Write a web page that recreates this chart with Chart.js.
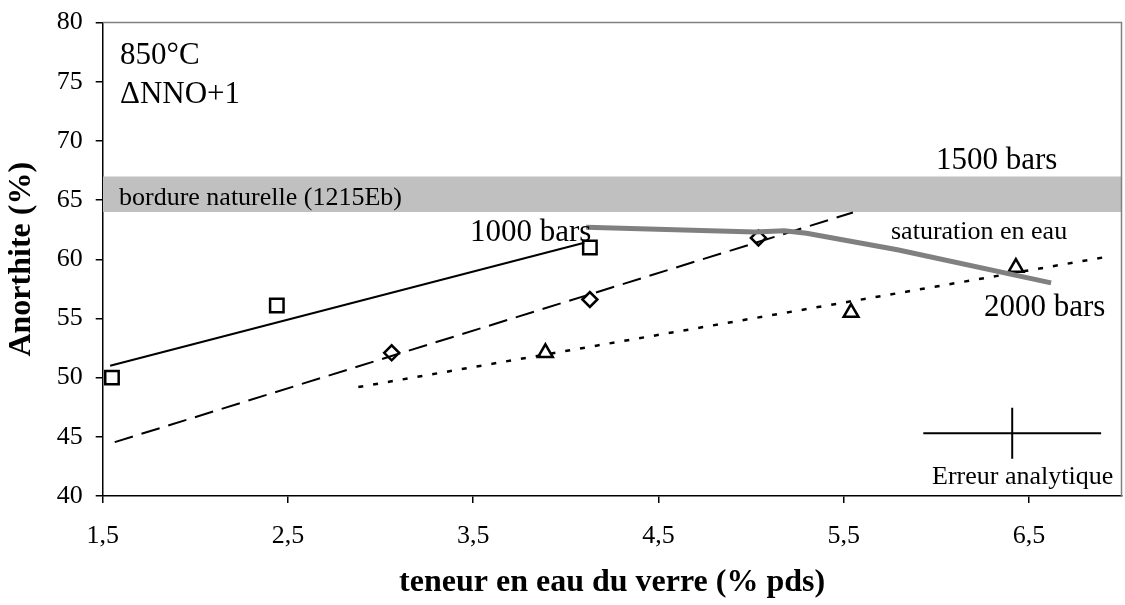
<!DOCTYPE html>
<html><head><meta charset="utf-8">
<script src="https://cdn.jsdelivr.net/npm/chart.js@4/dist/chart.umd.min.js"></script>
<style>html,body{margin:0;padding:0;background:#fff;}#wrap{width:1125px;height:605px;}</style>
</head><body><div id="wrap"><canvas id="c" width="1125" height="605"></canvas></div>
<script>
// ---- axes ----
const xTicks = [1.5, 2.5, 3.5, 4.5, 5.5, 6.5];
const xTickLabels = ['1,5', '2,5', '3,5', '4,5', '5,5', '6,5'];
const yTicks = [40, 45, 50, 55, 60, 65, 70, 75, 80];
// ---- experimental points ----
const bars1000X = [1.55, 2.44, 4.13];
const bars1000Y = [50.0, 56.1, 61.0];
const bars1500X = [3.06, 4.13, 5.04];
const bars1500Y = [52.1, 56.6, 61.8];
const bars2000X = [3.89, 5.54, 6.43];
const bars2000Y = [52.1, 55.5, 59.3];
// ---- trend lines ----
const trend1000X = [1.54, 4.10];  const trend1000Y = [51.0, 61.4];
const trend1500X = [1.565, 5.55]; const trend1500Y = [44.55, 63.95];
const trend2000X = [2.88, 6.90];  const trend2000Y = [49.2, 60.15];
// ---- water saturation curve ----
const satX = [4.11, 5.02, 5.18, 5.30, 5.79, 6.62];
const satY = [62.7, 62.3, 62.4, 62.2, 60.8, 58.0];
// ---- natural rim band ----
const bandX = [1.5, 7.0];
const bandLow = 64.0, bandHigh = 67.0;
// ---- analytical error ----
const errCenter = [6.41, 45.3];
const errHalfX = 0.48, errHalfY = 2.15;

const pts = (xs, ys) => xs.map((x, i) => ({x: x, y: ys[i]}));
const serif = "'Liberation Serif','Times New Roman',serif";

const textPlugin = {
  id: 'texts',
  afterDatasetsDraw(chart) {
    const ctx = chart.ctx, a = chart.chartArea;
    ctx.save();
    ctx.strokeStyle = '#808080';
    ctx.lineWidth = 1.5;
    ctx.beginPath();
    ctx.moveTo(a.left, a.top); ctx.lineTo(a.right, a.top); ctx.lineTo(a.right, a.bottom);
    ctx.stroke();
    ctx.restore();
  },
  afterDraw(chart) {
    const ctx = chart.ctx;
    ctx.save();
    ctx.fillStyle = '#000';
    ctx.textAlign = 'left';
    ctx.textBaseline = 'alphabetic';
    const items = [
      ['850°C', 120, 63.5, 31],
      ['\u0394NNO+1', 120, 103, 31],
      ['bordure naturelle (1215Eb)', 119, 205, 26],
      ['1500 bars', 936, 169, 31],
      ['1000 bars', 470, 240.5, 31],
      ['saturation en eau', 891, 239, 26],
      ['2000 bars', 984, 315.5, 31],
      ['Erreur analytique', 932, 484, 26]
    ];
    items.forEach(([t, x, y, s]) => {
      ctx.font = s + 'px ' + serif;
      ctx.fillText(t, x, y);
    });
    ctx.restore();
  }
};

function noPad(s) { s.paddingTop = 0; s.paddingBottom = 0; s.paddingLeft = 0; s.paddingRight = 0; }

new Chart(document.getElementById('c').getContext('2d'), {
  type: 'scatter',
  data: {
    datasets: [
      {data: pts(bandX, bandX.map(() => bandHigh)), showLine: true, fill: {value: bandLow},
       backgroundColor: '#C0C0C0', borderColor: 'rgba(0,0,0,0)', borderWidth: 0, pointRadius: 0, order: 20},
      {data: pts(trend1000X, trend1000Y), showLine: true, borderColor: '#000', borderWidth: 2, pointRadius: 0, order: 10},
      {data: pts(trend1500X, trend1500Y), showLine: true, borderColor: '#000', borderWidth: 2, borderDash: [19, 9], pointRadius: 0, order: 10},
      {data: pts(trend2000X, trend2000Y), showLine: true, borderColor: '#000', borderWidth: 2.5, borderDash: [5, 10], pointRadius: 0, order: 10},
      {data: pts([errCenter[0] - errHalfX, errCenter[0] + errHalfX], [errCenter[1], errCenter[1]]), showLine: true, borderColor: '#000', borderWidth: 2, pointRadius: 0, order: 10},
      {data: pts([errCenter[0], errCenter[0]], [errCenter[1] - errHalfY, errCenter[1] + errHalfY]), showLine: true, borderColor: '#000', borderWidth: 2, pointRadius: 0, order: 10},
      {data: pts(bars1000X, bars1000Y), showLine: false, pointStyle: 'rect', pointRadius: 9.5, pointBorderWidth: 2.5,
       pointBorderColor: '#000', pointBackgroundColor: 'rgba(0,0,0,0)', order: 5},
      {data: pts(bars1500X, bars1500Y), showLine: false, pointStyle: 'rectRot', pointRadius: 7.5, pointBorderWidth: 2.5,
       pointBorderColor: '#000', pointBackgroundColor: 'rgba(0,0,0,0)', order: 5},
      {data: pts(bars2000X, bars2000Y), showLine: false, pointStyle: 'triangle', pointRadius: 8.5, pointBorderWidth: 2.5,
       pointBorderColor: '#000', pointBackgroundColor: 'rgba(0,0,0,0)', order: 5},
      {data: pts(satX, satY), showLine: true, borderColor: '#808080', borderWidth: 5, pointRadius: 0, order: 1}
    ]
  },
  options: {
    animation: false, responsive: false, devicePixelRatio: 1,
    layout: {autoPadding: false, padding: {top: 22.5, right: 3.5, left: 0, bottom: 0}},
    plugins: {legend: {display: false}, tooltip: {enabled: false}},
    scales: {
      x: {
        type: 'linear', min: 1.5, max: 7.0,
        afterBuildTicks: s => { s.ticks = xTicks.map(v => ({value: v})); },
        afterFit: s => { s.height = 109; noPad(s); },
        ticks: {callback: v => { const i = xTicks.indexOf(v); return i >= 0 ? xTickLabels[i] : ''; },
                font: {family: serif, size: 26}, color: '#000', padding: 18, maxRotation: 0, autoSkip: false},
        grid: {drawOnChartArea: false, drawTicks: true, tickLength: 7, color: '#000', lineWidth: 1.5},
        border: {display: true, color: '#000', width: 1.5},
        title: {display: true, text: 'teneur en eau du verre (% pds)', color: '#000',
                font: {family: serif, size: 32, weight: 'bold'}, padding: {top: 0, bottom: 3}}
      },
      y: {
        type: 'linear', min: 40, max: 80,
        afterBuildTicks: s => { s.ticks = yTicks.map(v => ({value: v})); },
        afterFit: s => { s.width = 102.7; noPad(s); },
        ticks: {font: {family: serif, size: 26}, color: '#000', padding: 13, autoSkip: false},
        grid: {drawOnChartArea: false, drawTicks: true, tickLength: 7, color: '#000', lineWidth: 1.5},
        border: {display: true, color: '#000', width: 1.5},
        title: {display: true, text: 'Anorthite (%)', color: '#000',
                font: {family: serif, size: 32, weight: 'bold'}, padding: {top: 3, bottom: 0}}
      }
    }
  },
  plugins: [textPlugin]
});
</script>
</body></html>
